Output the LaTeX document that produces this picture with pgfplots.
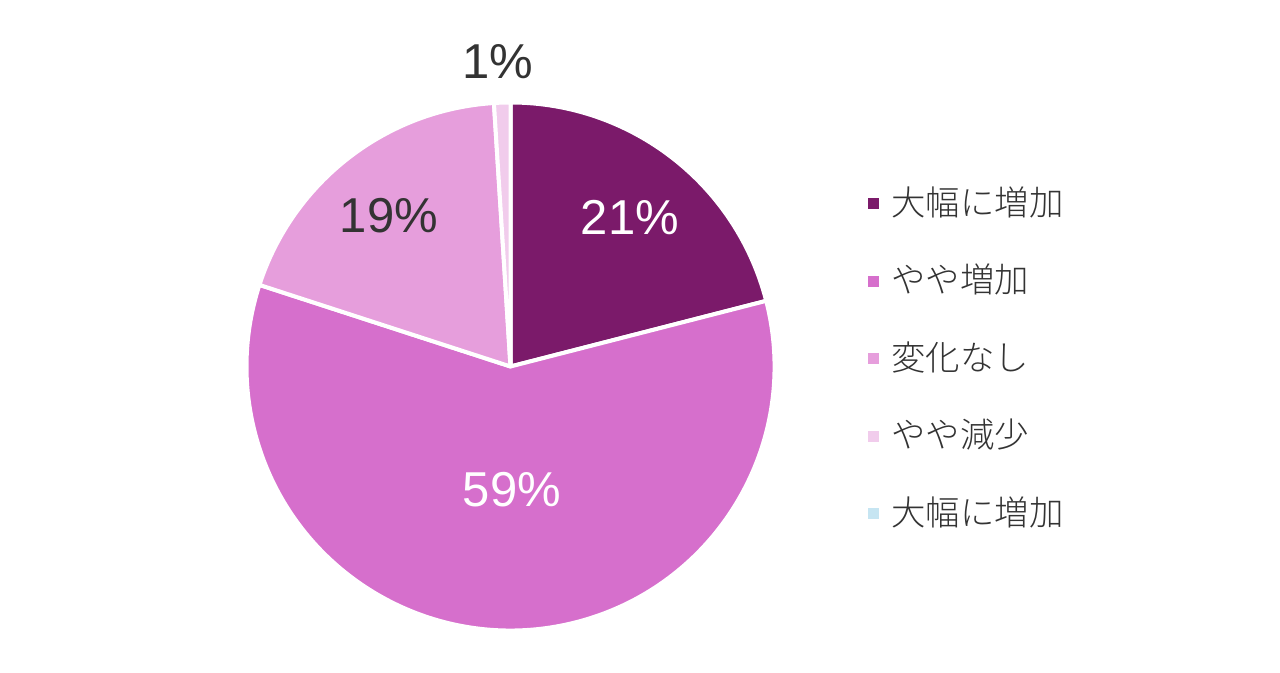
\documentclass[border=0pt]{standalone}
\usepackage{fontspec}
\setmainfont{Liberation Sans}
\newfontfamily\cjk{Noto Sans CJK JP Light}
\usepackage{pgfplots}
\pgfplotsset{compat=1.18}
\definecolor{c1}{HTML}{7B1A6A}
\definecolor{c2}{HTML}{D66FCC}
\definecolor{c3}{HTML}{E69EDC}
\definecolor{c4}{HTML}{F1CCEC}
\definecolor{c5}{HTML}{C6E5F2}
\definecolor{txt}{HTML}{333333}

% pie slice: start (percent), value (percent), colour
\newcommand\slice[3]{%
  \fill[#3, draw=white, line width=2pt, line join=round]
    (axis cs:510.5,306.5) -- ++({90-3.6*(#1)}:132pt)
    arc[start angle={90-3.6*(#1)}, delta angle={-3.6*(#2)}, radius=132pt] -- cycle;}

\begin{document}
\begin{tikzpicture}
\begin{axis}[
    x=0.5pt, y=0.5pt, scale only axis,
    xmin=0, xmax=1280, ymin=0, ymax=673,
    hide axis, clip=false,
    legend cell align=left,
    legend image code/.code={\fill[#1, draw=none] (0pt,-1.5pt) rectangle (5.5pt,4pt);},
    legend style={at={(axis cs:868,482)}, anchor=north west, draw=none, fill=none,
        inner sep=0pt, font=\cjk\fontsize{17.2}{17.2}\selectfont, text=txt,
        nodes={inner sep=0pt, text height=12pt, text depth=3pt},
        row sep=23.75pt,
        /tikz/every odd column/.append style={column sep=6pt}},
]
\path (axis cs:0,0) (axis cs:1280,673);
\slice{0}{21}{c1}
\slice{21}{59}{c2}
\slice{80}{19}{c3}
\slice{99}{1}{c4}

\addlegendimage{fill=c1}\addlegendentry{大幅に増加}
\addlegendimage{fill=c2}\addlegendentry{やや増加}
\addlegendimage{fill=c3}\addlegendentry{変化なし}
\addlegendimage{fill=c4}\addlegendentry{やや減少}
\addlegendimage{fill=c5}\addlegendentry{大幅に増加}

\begin{scope}[font=\fontsize{24.5}{24.5}\selectfont]
\node[white] at (axis cs:630,455) {21\%};
\node[white] at (axis cs:512,183) {59\%};
\node[txt] at (axis cs:389,457) {19\%};
\node[txt] at (axis cs:498,611) {1\%};
\end{scope}
\end{axis}
\end{tikzpicture}
\end{document}
